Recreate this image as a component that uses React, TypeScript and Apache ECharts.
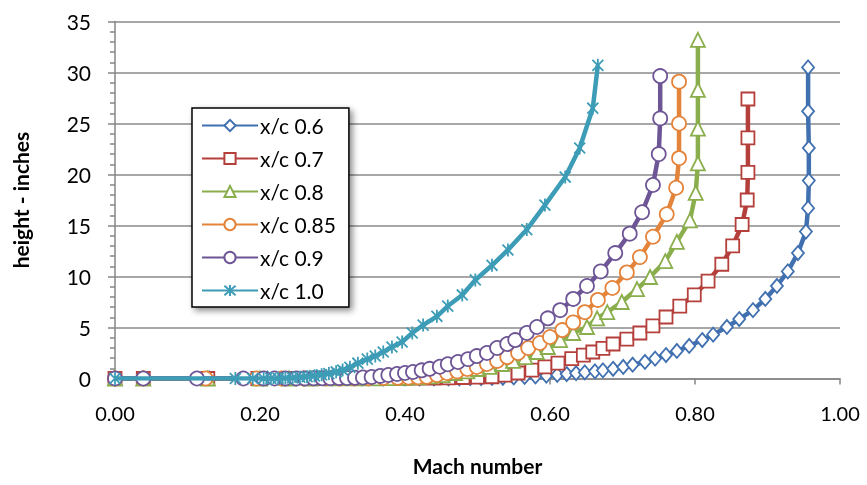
import React, { useEffect, useRef } from "react";
import * as echarts from "echarts";

const seriesNames = ["x/c 0.6", "x/c 0.7", "x/c 0.8", "x/c 0.85", "x/c 0.9", "x/c 1.0"];

const xc06: number[][] = [
  [0, 0], [0.13, 0], [0.21, 0], [0.26, 0], [0.3, 0], [0.34, 0], [0.37, 0], [0.4, 0], [0.42, 0],
  [0.44, 0.01], [0.46, 0.01], [0.475, 0.02], [0.49, 0.03], [0.505, 0.04], [0.52, 0.05],
  [0.535, 0.07], [0.55, 0.1], [0.565, 0.15], [0.58, 0.2], [0.595, 0.27], [0.61, 0.35],
  [0.623, 0.44], [0.636, 0.52], [0.648, 0.6], [0.662, 0.7], [0.673, 0.8], [0.687, 0.95],
  [0.701, 1.13], [0.714, 1.35], [0.731, 1.62], [0.745, 1.95], [0.76, 2.3], [0.775, 2.7],
  [0.792, 3.19], [0.81, 3.77], [0.825, 4.3], [0.844, 5.05], [0.861, 5.83], [0.88, 6.7],
  [0.897, 7.8], [0.913, 9.07], [0.928, 10.5], [0.942, 12.3], [0.953, 14.4], [0.956, 16.7],
  [0.957, 19.4], [0.957, 22.6], [0.956, 26.2], [0.956, 30.5],
];

const xc07: number[][] = [
  [0, 0], [0.039, 0], [0.128, 0], [0.197, 0], [0.24, 0], [0.28, 0], [0.31, 0], [0.34, 0],
  [0.36, 0.01], [0.38, 0.01], [0.4, 0.02], [0.42, 0.03], [0.44, 0.05], [0.46, 0.07],
  [0.48, 0.1], [0.5, 0.13], [0.52, 0.17], [0.538, 0.34], [0.556, 0.54], [0.575, 0.83],
  [0.593, 1.13], [0.611, 1.5], [0.63, 1.95], [0.646, 2.3], [0.659, 2.6], [0.673, 2.95],
  [0.687, 3.38], [0.706, 3.87], [0.724, 4.46], [0.742, 5.15], [0.76, 6.03], [0.779, 7.1],
  [0.799, 8.19], [0.818, 9.55], [0.837, 11.2], [0.852, 13.0], [0.865, 15.1], [0.872, 17.5],
  [0.873, 20.2], [0.873, 23.6], [0.873, 27.4],
];

const xc08: number[][] = [
  [0, 0], [0.039, 0], [0.128, 0], [0.2, 0], [0.24, 0], [0.27, 0], [0.3, 0.01], [0.32, 0.01],
  [0.34, 0.02], [0.36, 0.02], [0.38, 0.04], [0.4, 0.07], [0.418, 0.12], [0.435, 0.2],
  [0.452, 0.34], [0.469, 0.54], [0.486, 0.7], [0.501, 0.93], [0.517, 1.13], [0.534, 1.42],
  [0.549, 1.72], [0.566, 2.1], [0.582, 2.6], [0.597, 3.09], [0.614, 3.77], [0.632, 4.46],
  [0.651, 5.05], [0.665, 5.9], [0.679, 6.5], [0.699, 7.5], [0.72, 8.77], [0.738, 9.95],
  [0.759, 11.5], [0.775, 13.4], [0.793, 15.5], [0.801, 18.2], [0.804, 21.1], [0.804, 24.5],
  [0.804, 28.3], [0.804, 33.2],
];

const xc085: number[][] = [
  [0, 0], [0.039, 0], [0.125, 0], [0.195, 0], [0.23, 0], [0.26, 0], [0.29, 0.01], [0.31, 0.01],
  [0.33, 0.02], [0.35, 0.03], [0.37, 0.05], [0.39, 0.07], [0.405, 0.1], [0.418, 0.12],
  [0.43, 0.17], [0.444, 0.34], [0.458, 0.54], [0.472, 0.7], [0.486, 0.93], [0.499, 1.13],
  [0.513, 1.42], [0.527, 1.72], [0.541, 2.1], [0.556, 2.5], [0.57, 2.99], [0.586, 3.48],
  [0.6, 4.07], [0.617, 4.75], [0.632, 5.5], [0.648, 6.5], [0.666, 7.7], [0.686, 8.87],
  [0.706, 10.4], [0.724, 11.9], [0.742, 13.9], [0.761, 16.1], [0.774, 18.7], [0.778, 21.6],
  [0.778, 25.0], [0.778, 29.1],
];

const xc09: number[][] = [
  [0, 0], [0.039, 0], [0.113, 0], [0.177, 0], [0.205, 0], [0.22, 0], [0.235, 0.01], [0.25, 0.01],
  [0.262, 0.01], [0.274, 0.02], [0.286, 0.02], [0.297, 0.03], [0.309, 0.04], [0.32, 0.05],
  [0.331, 0.07], [0.342, 0.1], [0.354, 0.15], [0.366, 0.25], [0.377, 0.34], [0.389, 0.44],
  [0.4, 0.54], [0.411, 0.64], [0.423, 0.8], [0.434, 0.95], [0.448, 1.15], [0.459, 1.4],
  [0.473, 1.62], [0.487, 1.9], [0.499, 2.2], [0.513, 2.5], [0.527, 2.99], [0.541, 3.38],
  [0.552, 3.77], [0.568, 4.46], [0.582, 5.05], [0.597, 5.9], [0.614, 6.7], [0.632, 7.8],
  [0.651, 9.07], [0.67, 10.5], [0.69, 12.3], [0.71, 14.2], [0.727, 16.3], [0.742, 18.97],
  [0.75, 22.0], [0.752, 25.5], [0.752, 29.65],
];

const xc10: number[][] = [
  [0, 0], [0.166, 0], [0.19, 0], [0.205, 0], [0.215, 0.01], [0.225, 0.02], [0.235, 0.04],
  [0.245, 0.07], [0.255, 0.12], [0.265, 0.18], [0.275, 0.26], [0.285, 0.36], [0.295, 0.48],
  [0.305, 0.65], [0.314, 0.83], [0.324, 1.1], [0.335, 1.5], [0.348, 1.9], [0.359, 2.2],
  [0.37, 2.6], [0.382, 3.09], [0.396, 3.58], [0.41, 4.46], [0.425, 5.24], [0.444, 6.1],
  [0.459, 7.1], [0.479, 8.19], [0.497, 9.66], [0.52, 11.1], [0.542, 12.6], [0.568, 14.6],
  [0.593, 17.0], [0.621, 19.75], [0.641, 22.6], [0.659, 26.5], [0.666, 30.7],
];

const yTicks = [0, 5, 10, 15, 20, 25, 30, 35];
const xTicks = [0, 0.2, 0.4, 0.6, 0.8, 1.0];

const colors = ["#4170B0", "#B43F3B", "#8AAE4C", "#E4833A", "#6D5596", "#3D9CB6"];
const symbols = [
  "diamond",
  "rect",
  "triangle",
  "circle",
  "circle",
  "path://M5,0 L5,10 M0.8,0.8 L9.2,9.2 M0.8,9.2 L9.2,0.8",
];
const symbolSizes: any[] = [[12, 14], 13, 14, 14, 14, 13];
const allData = [xc06, xc07, xc08, xc085, xc09, xc10];

const FONT = "Lato, 'Open Sans', sans-serif";

export default function App() {
  const ref = useRef<HTMLDivElement>(null);
  useEffect(() => {
    if (!ref.current) return;
    const chart = echarts.init(ref.current, undefined, { renderer: "svg" });
    const series = allData.map((d, i) => {
      const isStar = i === 5;
      return {
        name: seriesNames[i],
        type: "line",
        data: d,
        symbol: symbols[i],
        symbolSize: symbolSizes[i],
        showAllSymbol: true,
        symbolKeepAspect: true,
        z: 2 + i,
        lineStyle: { color: colors[i], width: 4.5 },
        itemStyle: isStar
          ? { color: colors[i], borderColor: colors[i], borderWidth: 1.8 }
          : { color: "#ffffff", borderColor: colors[i], borderWidth: 1.8 },
        emphasis: { disabled: true },
      };
    });
    chart.setOption({
      animation: false,
      textStyle: { fontFamily: FONT },
      grid: { left: 115, top: 21.5, width: 725, height: 357 },
      xAxis: {
        type: "value",
        min: xTicks[0],
        max: xTicks[xTicks.length - 1],
        interval: 0.2,
        name: "Mach number",
        nameLocation: "middle",
        nameGap: 76,
        nameTextStyle: { fontSize: 21, fontWeight: "bold", color: "#000", fontFamily: FONT },
        axisLine: { show: true, lineStyle: { color: "#868686", width: 1.5 } },
        axisTick: { show: true, length: 6, lineStyle: { color: "#868686", width: 1.5 } },
        axisLabel: {
          fontSize: 20,
          color: "#000",
          margin: 24,
          fontFamily: FONT,
          formatter: (v: number) => v.toFixed(2),
        },
        splitLine: { show: false },
      },
      yAxis: {
        type: "value",
        min: yTicks[0],
        max: yTicks[yTicks.length - 1],
        interval: 5,
        name: "height - inches",
        nameLocation: "middle",
        nameGap: 84,
        nameRotate: 90,
        nameTextStyle: { fontSize: 21, fontWeight: "bold", color: "#000", fontFamily: FONT },
        axisLine: { show: true, lineStyle: { color: "#868686", width: 1.5 } },
        axisTick: { show: true, length: 7, lineStyle: { color: "#868686", width: 1.5 } },
        minorTick: { show: true, splitNumber: 5, length: 5, lineStyle: { color: "#868686", width: 1.5 } },
        axisLabel: { fontSize: 21, color: "#000", margin: 24, fontFamily: FONT },
        splitLine: { show: true, lineStyle: { color: "#8a8a8a", width: 1.5 } },
      },
      legend: {
        data: seriesNames,
        orient: "vertical",
        left: 192,
        top: 108,
        padding: [6, 13, 5, 9],
        itemWidth: 56,
        itemHeight: 14,
        itemGap: 10,
        backgroundColor: "#ffffff",
        borderColor: "#000000",
        borderWidth: 1.5,
        shadowBlur: 6,
        shadowOffsetX: 3,
        shadowOffsetY: 3,
        shadowColor: "rgba(0,0,0,0.45)",
        selectedMode: false,
        textStyle: { fontSize: 21, color: "#000", lineHeight: 23, padding: [0, 0, 0, -3], fontFamily: FONT },
      },
      series,
    });
    return () => chart.dispose();
  }, []);
  return <div ref={ref} style={{ position: "fixed", left: 0, top: 0, width: 867, height: 485 }} />;
}
